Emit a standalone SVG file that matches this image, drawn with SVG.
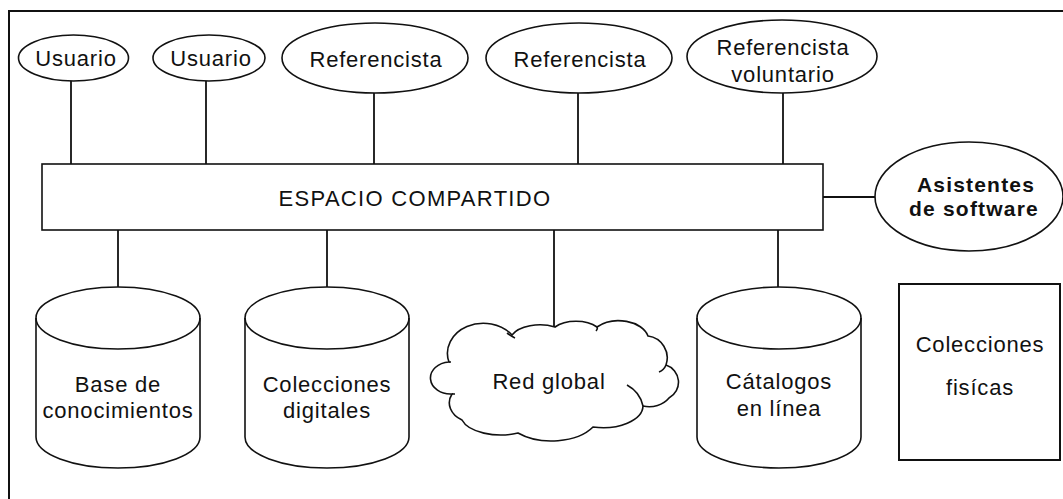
<svg xmlns="http://www.w3.org/2000/svg" width="1063" height="499" viewBox="0 0 1063 499">
<style>
.shape{fill:#fff;stroke:#111;stroke-width:1.6}
.line{stroke:#111;stroke-width:1.8;fill:none}
.t{font-family:"Liberation Sans",Arial,sans-serif;font-size:22px;letter-spacing:0.8px;fill:#111;text-anchor:middle}
.b{font-weight:bold;font-size:21px;letter-spacing:1.2px}
</style>
<rect x="0" y="0" width="1063" height="499" fill="#fff"/>
<rect id="frame" x="9" y="11" width="1070" height="510" fill="none" stroke="#111" stroke-width="2"/>
<g id="connectors">
<line class="line" x1="71" y1="81" x2="71" y2="164"/>
<line class="line" x1="206" y1="81" x2="206" y2="164"/>
<line class="line" x1="374" y1="93" x2="374" y2="164"/>
<line class="line" x1="578" y1="93" x2="578" y2="164"/>
<line class="line" x1="783" y1="93" x2="783" y2="164"/>
<line class="line" x1="823" y1="197" x2="875" y2="197"/>
<line class="line" x1="118" y1="230" x2="118" y2="287"/>
<line class="line" x1="327" y1="230" x2="327" y2="287"/>
<line class="line" x1="554" y1="230" x2="554" y2="327"/>
<line class="line" x1="778" y1="230" x2="778" y2="287"/>
</g>
<g id="usuario1">
<ellipse class="shape" cx="73.5" cy="58" rx="55" ry="23"/>
<text class="t" x="76" y="66">Usuario</text>
</g>
<g id="usuario2">
<ellipse class="shape" cx="209" cy="58" rx="56" ry="23"/>
<text class="t" x="211" y="66">Usuario</text>
</g>
<g id="referencista1">
<ellipse class="shape" cx="375" cy="58" rx="93" ry="35"/>
<text class="t" x="376" y="67">Referencista</text>
</g>
<g id="referencista2">
<ellipse class="shape" cx="579" cy="58" rx="93" ry="35"/>
<text class="t" x="580" y="67">Referencista</text>
</g>
<g id="referencista-voluntario">
<ellipse class="shape" cx="782" cy="56.5" rx="95" ry="36.5"/>
<text class="t" x="783" y="55">Referencista</text>
<text class="t" x="783" y="82">voluntario</text>
</g>
<g id="espacio-compartido">
<rect class="shape" x="42" y="164" width="781" height="66"/>
<text class="t" x="415" y="206" style="letter-spacing:1.3px">ESPACIO COMPARTIDO</text>
</g>
<g id="asistentes">
<ellipse class="shape" cx="969" cy="196.5" rx="94" ry="54.5"/>
<text class="t b" x="976" y="192">Asistentes</text>
<text class="t b" x="974" y="216">de software</text>
</g>
<g id="base-conocimientos">
<path class="shape" d="M36 318 V437 A82 31 0 0 0 200 437 V318 A82 31 0 0 0 36 318 Z"/>
<path class="line" style="stroke-width:1.6" d="M36 318 A82 31 0 0 0 200 318"/>
<text class="t" x="118" y="392">Base de</text>
<text class="t" x="118" y="418">conocimientos</text>
</g>
<g id="colecciones-digitales">
<path class="shape" d="M245 318 V437 A82 31 0 0 0 409 437 V318 A82 31 0 0 0 245 318 Z"/>
<path class="line" style="stroke-width:1.6" d="M245 318 A82 31 0 0 0 409 318"/>
<text class="t" x="327" y="392">Colecciones</text>
<text class="t" x="327" y="418">digitales</text>
</g>
<g id="red-global">
<path class="shape" d="M449 362 A36 30 0 0 1 512 335 A30 16 0 0 1 555 327 A26 14 0 0 1 597 327 A30 20 0 0 1 648 336 A22 22 0 0 1 666 365 A18 18 0 0 1 669 398 A24 20 0 0 1 643 406 A40 22 0 0 1 593 427 A48 28 0 0 1 518 433 A40 20 0 0 1 462 420 A26 20 0 0 1 452 394 A20 16 0 0 1 449 362 Z"/>
<path class="line" style="stroke-width:1.6" d="M627 385 Q640 392 643 406 M452 394 H455 M449 362 H451 M507 333 Q511 336 515 338 M597 327 Q598 329 596 331 M666 365 Q664 370 659 372"/>
<text class="t" x="549" y="389">Red global</text>
</g>
<g id="catalogos">
<path class="shape" d="M697 318 V437 A82 31 0 0 0 861 437 V318 A82 31 0 0 0 697 318 Z"/>
<path class="line" style="stroke-width:1.6" d="M697 318 A82 31 0 0 0 861 318"/>
<text class="t" x="779" y="389">Cátalogos</text>
<text class="t" x="779" y="416">en línea</text>
</g>
<g id="colecciones-fisicas">
<rect class="shape" x="899" y="284" width="161" height="176" style="stroke-width:2"/>
<text class="t" x="980" y="352">Colecciones</text>
<text class="t" x="980" y="395">fisícas</text>
</g>
</svg>
